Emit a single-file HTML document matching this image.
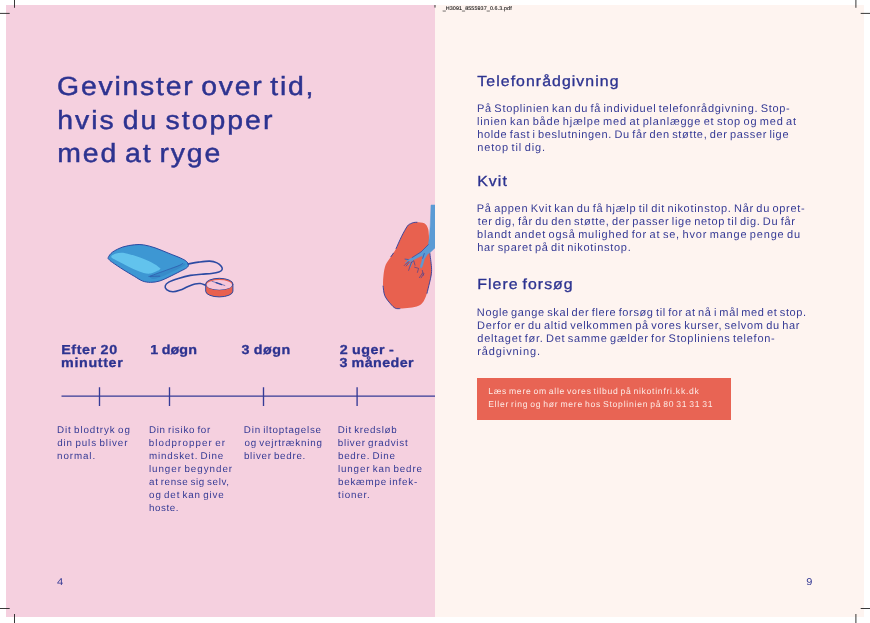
<!DOCTYPE html>
<html lang="da">
<head>
<meta charset="utf-8">
<title>Gevinster over tid</title>
<style>
html,body{margin:0;padding:0;background:#fff;}
body{width:870px;height:623px;position:relative;overflow:hidden;font-family:"Liberation Sans",sans-serif;}
.pg{position:absolute;top:5px;height:611.6px;}
#lp{left:6.3px;width:428.7px;background:#f5d0df;}
#rp{left:435px;width:428.8px;background:#fef4f0;}
.t{position:absolute;transform-origin:0 0;text-rendering:geometricPrecision;white-space:nowrap;line-height:1;font-family:"Liberation Sans",sans-serif;}
#box{position:absolute;left:476.8px;top:377.8px;width:253.9px;height:41.9px;background:#e86454;}
svg{position:absolute;left:0;top:0;}
#tx{position:absolute;left:0;top:0;width:870px;height:623px;will-change:transform;}
</style>
</head>
<body>
<div class="pg" id="lp"></div>
<div class="pg" id="rp"></div>
<div id="box"></div>
<svg width="870" height="623" viewBox="0 0 870 623">
  <!-- crop marks -->
  <g stroke="#222" stroke-width="0.9" fill="none">
    <path d="M14.5 0V7.8M0 13.4H9.7M855.9 0V7.8M860.7 13.4H870M0 608.5H9.7M14.5 614V623M855.9 614V623M860.7 608.5H870"/>
    <path d="M435 5V7.6"/>
  </g>
  <!-- timeline -->
  <g stroke="#363b97" stroke-width="1.35" fill="none">
    <path d="M61.5 396.1H435M99.5 387.2V406M169.5 387.2V406M263.5 387.2V406M357.1 387.2V406"/>
  </g>
  <clipPath id="lpc"><rect x="6.3" y="5" width="428.7" height="611.6"/></clipPath>
  <g clip-path="url(#lpc)">
  <path d="M108.28 257.41C108.85 256.13 110.19 253.75 112.64 252.01C115.10 250.27 119.35 248.16 122.99 246.95C126.63 245.75 131.03 245.11 134.48 244.77C137.93 244.43 140.23 244.37 143.68 244.89C147.13 245.40 150.96 246.46 155.17 247.87C159.39 249.29 164.75 251.70 168.97 253.39C173.18 255.08 177.59 256.69 180.46 257.99C183.33 259.29 184.87 260.10 186.21 261.21C187.55 262.32 188.41 263.56 188.51 264.66C188.60 265.75 188.12 266.67 186.78 267.76C185.44 268.85 183.43 269.67 180.46 271.21C177.49 272.74 172.41 275.33 168.97 276.95C165.52 278.58 162.84 280.08 159.77 280.98C156.70 281.88 153.45 282.36 150.57 282.36C147.70 282.36 145.21 281.97 142.53 280.98C139.85 279.98 137.74 278.30 134.48 276.38C131.23 274.46 126.63 271.78 122.99 269.48C119.35 267.18 114.94 264.21 112.64 262.59C110.34 260.96 109.92 260.57 109.20 259.71C108.47 258.85 107.70 258.70 108.28 257.41Z" fill="#3d97d3" stroke="#2c4aa2" stroke-width="1.0" stroke-linejoin="round"/>
  <path d="M111.26 256.38C111.55 255.38 113.75 253.93 116.09 253.39C118.43 252.85 121.65 252.59 125.29 253.16C128.93 253.74 133.52 255.27 137.93 256.84C142.34 258.41 148.12 260.77 151.72 262.59C155.33 264.41 158.16 266.65 159.54 267.76C160.92 268.87 160.34 268.74 160.00 269.25C159.66 269.77 159.04 270.15 157.47 270.86C155.90 271.57 152.87 273.16 150.57 273.51C148.28 273.85 146.36 273.60 143.68 272.93C141.00 272.26 137.93 271.02 134.48 269.48C131.03 267.95 126.34 265.42 122.99 263.74C119.64 262.05 116.32 260.59 114.37 259.37C112.41 258.14 110.98 257.38 111.26 256.38Z" fill="#62c3ed"/>
  <path d="M150.57 276.15C152.78 274.71 161.30 272.36 166.67 270.29C172.03 268.22 179.73 264.60 182.76 263.74C185.79 262.87 185.40 264.35 184.83 265.11C184.25 265.88 181.95 266.95 179.31 268.33C176.67 269.71 172.22 271.90 168.97 273.39C165.71 274.89 162.36 276.38 159.77 277.30C157.18 278.22 154.98 279.10 153.45 278.91C151.92 278.72 148.37 277.59 150.57 276.15Z" fill="#378bc9"/>
  <path d="M150.57 275.92C153.26 274.94 161.88 271.80 166.67 270.06C171.46 268.31 176.63 266.59 179.31 265.46C181.99 264.33 182.18 263.64 182.76 263.28" fill="none" stroke="#2c4aa2" stroke-width="0.6" stroke-linecap="round"/>
  <path d="M148.85 276.38C150.67 276.34 157.95 276.19 159.77 276.15" fill="none" stroke="#2c4aa2" stroke-width="0.6" stroke-linecap="round"/>
  <path d="M188.05 263.98C189.81 263.67 195.02 262.61 198.62 262.14C202.22 261.66 206.59 261.00 209.66 261.13C212.72 261.25 215.05 261.97 217.01 262.87C218.97 263.78 220.58 265.40 221.43 266.55C222.27 267.70 222.50 268.85 222.07 269.77C221.64 270.69 220.61 271.46 218.85 272.07C217.09 272.68 214.41 273.10 211.49 273.45C208.58 273.80 204.90 273.86 201.38 274.18C197.85 274.51 194.18 274.66 190.34 275.38C186.51 276.10 181.99 277.37 178.39 278.51C174.79 279.64 170.93 280.96 168.74 282.18C166.54 283.41 165.59 284.64 165.24 285.86C164.89 287.09 165.35 288.54 166.62 289.54C167.89 290.54 170.61 291.75 172.87 291.84C175.14 291.93 177.78 290.93 180.23 290.09C182.68 289.25 185.13 287.79 187.59 286.78C190.04 285.77 192.80 284.56 194.94 284.02C197.09 283.49 198.74 283.38 200.46 283.56C202.18 283.75 204.44 284.87 205.24 285.13" fill="none" stroke="#2c4aa2" stroke-width="1.55" stroke-linecap="round"/>
  <path d="M205.70 284.02V291.20A13.61 5.70 0 0 0 232.92 291.20V284.02Z" fill="#e8614f" stroke="#2c4aa2" stroke-width="1.0"/>
  <ellipse cx="219.31" cy="284.02" rx="13.61" ry="5.70" fill="#e8614f" stroke="#2c4aa2" stroke-width="1.0"/>
  <ellipse cx="219.31" cy="284.92" rx="12.71" ry="4.80" fill="#f6c6d8"/>
  <path d="M211.95 281.26L224.83 285.49" stroke="#2c4aa2" stroke-width="0.6" stroke-linecap="round"/>
  <path d="M216.09 282.64L221.61 284.57" stroke="#2c4aa2" stroke-width="1.3" stroke-linecap="round"/>
  <path d="M413.80 222.50C414.87 222.27 415.25 222.17 417.00 222.30C418.75 222.43 422.48 222.32 424.30 223.30C426.12 224.28 427.13 226.18 427.90 228.20C428.67 230.22 428.67 232.60 428.90 235.40C429.13 238.20 429.17 241.98 429.30 245.00C429.43 248.02 429.33 249.80 429.70 253.50C430.07 257.20 431.25 263.62 431.50 267.20C431.75 270.78 431.53 272.38 431.20 275.00C430.87 277.62 430.25 279.72 429.50 282.90C428.75 286.08 427.70 291.02 426.70 294.10C425.70 297.18 424.85 299.45 423.50 301.40C422.15 303.35 420.88 304.73 418.60 305.80C416.32 306.87 412.88 307.33 409.80 307.80C406.72 308.27 402.52 308.53 400.10 308.60C397.68 308.67 396.90 309.00 395.30 308.20C393.70 307.40 392.25 305.88 390.50 303.80C388.75 301.72 386.03 298.65 384.80 295.70C383.57 292.75 383.32 289.52 383.10 286.10C382.88 282.68 383.07 278.75 383.50 275.20C383.93 271.65 384.47 267.88 385.70 264.80C386.93 261.72 389.17 259.42 390.90 256.70C392.63 253.98 394.30 251.92 396.10 248.50C397.90 245.08 399.82 239.93 401.70 236.20C403.58 232.47 405.92 228.18 407.40 226.10C408.88 224.02 409.53 224.30 410.60 223.70C411.67 223.10 412.73 222.73 413.80 222.50Z" fill="#e8614f"/>
  <path d="M417.00 222.30C416.47 222.33 414.87 222.27 413.80 222.50C412.73 222.73 411.67 223.10 410.60 223.70C409.53 224.30 408.88 224.02 407.40 226.10C405.92 228.18 403.58 232.47 401.70 236.20C399.82 239.93 397.03 246.45 396.10 248.50" fill="none" stroke="#2b3d9c" stroke-width="0.9" stroke-linecap="round"/>
  <path d="M393.40 253.20C392.98 253.78 391.32 256.12 390.90 256.70" fill="none" stroke="#2b3d9c" stroke-width="0.9" stroke-linecap="round"/>
  <path d="M383.10 286.10C383.38 287.70 383.57 292.75 384.80 295.70C386.03 298.65 388.75 301.72 390.50 303.80C392.25 305.88 393.73 307.40 395.30 308.20C396.87 309.00 399.13 308.53 399.90 308.60" fill="none" stroke="#2b3d9c" stroke-width="0.9" stroke-linecap="round"/>
  <path d="M429.80 252.80C430.08 255.20 431.27 263.50 431.50 267.20C431.73 270.90 431.53 272.38 431.20 275.00C430.87 277.62 430.20 279.85 429.50 282.90C428.80 285.95 427.42 291.57 427.00 293.30" fill="none" stroke="#2b3d9c" stroke-width="0.9" stroke-linecap="round"/>
  <path d="M431.00 205.00L430.30 225.00L429.30 238.00L428.30 244.70L421.10 251.90L413.80 256.70L408.20 259.90L405.40 259.10L408.20 260.90L414.60 259.30L420.20 256.50L422.70 255.70L421.90 261.00L420.40 266.00L420.90 268.20L422.40 266.20L424.40 259.10L427.50 254.30L430.70 251.90L435.00 247.90L435.00 205.00Z" fill="#5b9bd5" stroke="#5b9bd5" stroke-width="0.5" stroke-linejoin="round"/>
  <path d="M410.50 259.60L405.60 262.60" fill="none" stroke="#5b9bd5" stroke-width="1.0" stroke-linecap="round"/>
  <path d="M411.80 259.80L408.00 265.00" fill="none" stroke="#5b9bd5" stroke-width="1.0" stroke-linecap="round"/>
  <path d="M413.20 259.50L410.00 267.50" fill="none" stroke="#5b9bd5" stroke-width="1.0" stroke-linecap="round"/>
  <path d="M405.00 259.10L408.20 259.50" fill="none" stroke="#2b3d9c" stroke-width="0.6" stroke-linecap="round" stroke-linejoin="round"/>
  <path d="M404.20 265.60L408.20 261.50" fill="none" stroke="#2b3d9c" stroke-width="0.6" stroke-linecap="round" stroke-linejoin="round"/>
  <path d="M406.20 266.00L409.00 262.40" fill="none" stroke="#2b3d9c" stroke-width="0.6" stroke-linecap="round" stroke-linejoin="round"/>
  <path d="M408.60 270.40L411.40 262.40" fill="none" stroke="#2b3d9c" stroke-width="0.6" stroke-linecap="round" stroke-linejoin="round"/>
  <path d="M411.40 262.40L413.80 260.70L415.00 265.20" fill="none" stroke="#2b3d9c" stroke-width="0.6" stroke-linecap="round" stroke-linejoin="round"/>
  <path d="M414.60 267.20L418.60 268.40L417.40 272.40" fill="none" stroke="#2b3d9c" stroke-width="0.6" stroke-linecap="round" stroke-linejoin="round"/>
  <path d="M419.40 277.60L422.70 272.80" fill="none" stroke="#2b3d9c" stroke-width="0.6" stroke-linecap="round" stroke-linejoin="round"/>
  <path d="M421.10 277.80L423.90 273.60" fill="none" stroke="#2b3d9c" stroke-width="0.6" stroke-linecap="round" stroke-linejoin="round"/>
  <path d="M422.30 270.40L423.50 275.20" fill="none" stroke="#2b3d9c" stroke-width="0.6" stroke-linecap="round" stroke-linejoin="round"/>
  <path d="M428.30 244.70L421.10 251.90L412.20 257.50" fill="none" stroke="#2b3d9c" stroke-width="0.6" stroke-linecap="round" stroke-linejoin="round"/>
  <path d="M424.30 253.50L422.70 258.30" fill="none" stroke="#2b3d9c" stroke-width="0.6" stroke-linecap="round" stroke-linejoin="round"/>
  </g>
</svg>
<div id="tx">
<span class="t" style="left:57px;text-indent:0.12px;top:72.54px;font-size:26.3px;font-weight:400;color:#2d3390;letter-spacing:1.625px;word-spacing:-2.63px;transform:scaleX(1.08);-webkit-text-stroke:0.45px #2d3390;">Gevinster over tid,</span>
<span class="t" style="left:57px;text-indent:0.14px;top:107.34px;font-size:26.3px;font-weight:400;color:#2d3390;letter-spacing:1.872px;word-spacing:-2.63px;transform:scaleX(1.08);-webkit-text-stroke:0.45px #2d3390;">hvis du stopper</span>
<span class="t" style="left:57px;text-indent:0.21px;top:139.54px;font-size:26.3px;font-weight:400;color:#2d3390;letter-spacing:1.736px;word-spacing:-2.63px;transform:scaleX(1.08);-webkit-text-stroke:0.45px #2d3390;">med at ryge</span>
<span class="t" style="left:61px;text-indent:0.17px;top:342.94px;font-size:13.0px;font-weight:700;color:#2d3390;letter-spacing:0.543px;word-spacing:-0.65px;transform:scaleX(1.1);-webkit-text-stroke:0.3px #2d3390;">Efter 20</span>
<span class="t" style="left:61px;text-indent:0.09px;top:356.14px;font-size:13.0px;font-weight:700;color:#2d3390;letter-spacing:0.572px;word-spacing:-0.65px;transform:scaleX(1.1);-webkit-text-stroke:0.3px #2d3390;">minutter</span>
<span class="t" style="left:150px;text-indent:0.34px;top:342.94px;font-size:13.0px;font-weight:700;color:#2d3390;letter-spacing:0.064px;word-spacing:-0.65px;transform:scaleX(1.1);-webkit-text-stroke:0.3px #2d3390;">1 d&#248;gn</span>
<span class="t" style="left:241px;text-indent:0.38px;top:342.94px;font-size:13.0px;font-weight:700;color:#2d3390;letter-spacing:0.478px;word-spacing:-0.65px;transform:scaleX(1.1);-webkit-text-stroke:0.3px #2d3390;">3 d&#248;gn</span>
<span class="t" style="left:339px;text-indent:0.70px;top:342.94px;font-size:13.0px;font-weight:700;color:#2d3390;letter-spacing:0.489px;word-spacing:-0.65px;transform:scaleX(1.1);-webkit-text-stroke:0.3px #2d3390;">2 uger -</span>
<span class="t" style="left:339px;text-indent:0.46px;top:356.14px;font-size:13.0px;font-weight:700;color:#2d3390;letter-spacing:0.375px;word-spacing:-0.65px;transform:scaleX(1.1);-webkit-text-stroke:0.3px #2d3390;">3 m&#229;neder</span>
<span class="t" style="left:56.91px;top:426.21px;font-size:9.8px;font-weight:400;color:#353a95;letter-spacing:0.909px;word-spacing:-1.18px;">Dit blodtryk og</span>
<span class="t" style="left:57.17px;top:439.21px;font-size:9.8px;font-weight:400;color:#353a95;letter-spacing:0.909px;word-spacing:-1.18px;">din puls bliver</span>
<span class="t" style="left:57.05px;top:452.21px;font-size:9.8px;font-weight:400;color:#353a95;letter-spacing:0.907px;word-spacing:-1.18px;">normal.</span>
<span class="t" style="left:148.89px;top:426.21px;font-size:9.8px;font-weight:400;color:#353a95;letter-spacing:0.719px;word-spacing:-1.18px;">Din risiko for</span>
<span class="t" style="left:148.86px;top:439.21px;font-size:9.8px;font-weight:400;color:#353a95;letter-spacing:1.055px;word-spacing:-1.18px;">blodpropper er</span>
<span class="t" style="left:148.99px;top:452.21px;font-size:9.8px;font-weight:400;color:#353a95;letter-spacing:0.808px;word-spacing:-1.18px;">mindsket. Dine</span>
<span class="t" style="left:148.89px;top:465.21px;font-size:9.8px;font-weight:400;color:#353a95;letter-spacing:0.970px;word-spacing:-1.18px;">lunger begynder</span>
<span class="t" style="left:149.09px;top:478.21px;font-size:9.8px;font-weight:400;color:#353a95;letter-spacing:0.630px;word-spacing:-1.18px;">at rense sig selv,</span>
<span class="t" style="left:149.12px;top:491.21px;font-size:9.8px;font-weight:400;color:#353a95;letter-spacing:0.837px;word-spacing:-1.18px;">og det kan give</span>
<span class="t" style="left:149.01px;top:504.21px;font-size:9.8px;font-weight:400;color:#353a95;letter-spacing:0.573px;word-spacing:-1.18px;">hoste.</span>
<span class="t" style="left:243.87px;top:426.10px;font-size:9.8px;font-weight:400;color:#353a95;letter-spacing:0.759px;word-spacing:-1.18px;">Din iltoptagelse</span>
<span class="t" style="left:244.39px;top:439.10px;font-size:9.8px;font-weight:400;color:#353a95;letter-spacing:0.804px;word-spacing:-1.18px;">og vejrtr&#230;kning</span>
<span class="t" style="left:243.95px;top:452.10px;font-size:9.8px;font-weight:400;color:#353a95;letter-spacing:0.722px;word-spacing:-1.18px;">bliver bedre.</span>
<span class="t" style="left:337.72px;top:426.21px;font-size:9.8px;font-weight:400;color:#353a95;letter-spacing:0.723px;word-spacing:-1.18px;">Dit kredsl&#248;b</span>
<span class="t" style="left:337.79px;top:439.21px;font-size:9.8px;font-weight:400;color:#353a95;letter-spacing:0.756px;word-spacing:-1.18px;">bliver gradvist</span>
<span class="t" style="left:337.95px;top:452.21px;font-size:9.8px;font-weight:400;color:#353a95;letter-spacing:0.749px;word-spacing:-1.18px;">bedre. Dine</span>
<span class="t" style="left:337.95px;top:465.21px;font-size:9.8px;font-weight:400;color:#353a95;letter-spacing:0.857px;word-spacing:-1.18px;">lunger kan bedre</span>
<span class="t" style="left:337.93px;top:478.21px;font-size:9.8px;font-weight:400;color:#353a95;letter-spacing:0.781px;word-spacing:-1.18px;">bek&#230;mpe infek-</span>
<span class="t" style="left:338.11px;top:491.21px;font-size:9.8px;font-weight:400;color:#353a95;letter-spacing:0.821px;word-spacing:-1.18px;">tioner.</span>
<span class="t" style="left:56px;text-indent:0.79px;top:578.43px;font-size:10.0px;font-weight:400;color:#353a95;letter-spacing:-0.732px;transform:scaleX(1.12);">4</span>
<span class="t" style="left:806px;text-indent:0.23px;top:577.54px;font-size:10.0px;font-weight:400;color:#353a95;letter-spacing:-1.091px;transform:scaleX(1.1);">9</span>
<span class="t" style="left:477px;text-indent:0.33px;top:74.54px;font-size:14.7px;font-weight:400;color:#2d3390;letter-spacing:0.971px;word-spacing:-1.47px;transform:scaleX(1.08);-webkit-text-stroke:0.32px #2d3390;">Telefonr&#229;dgivning</span>
<span class="t" style="left:477px;text-indent:0.18px;top:174.54px;font-size:14.7px;font-weight:400;color:#2d3390;letter-spacing:0.984px;word-spacing:-1.47px;transform:scaleX(1.08);-webkit-text-stroke:0.32px #2d3390;">Kvit</span>
<span class="t" style="left:477px;text-indent:0.18px;top:278.14px;font-size:14.7px;font-weight:400;color:#2d3390;letter-spacing:0.975px;word-spacing:-1.47px;transform:scaleX(1.08);-webkit-text-stroke:0.32px #2d3390;">Flere fors&#248;g</span>
<span class="t" style="left:477.07px;top:104.01px;font-size:11.0px;font-weight:400;color:#353a95;letter-spacing:0.701px;word-spacing:-1.32px;">P&#229; Stoplinien kan du f&#229; individuel telefonr&#229;dgivning. Stop-</span>
<span class="t" style="left:477.07px;top:117.01px;font-size:11.0px;font-weight:400;color:#353a95;letter-spacing:0.791px;word-spacing:-1.32px;">linien kan b&#229;de hj&#230;lpe med at planl&#230;gge et stop og med at</span>
<span class="t" style="left:477.18px;top:130.01px;font-size:11.0px;font-weight:400;color:#353a95;letter-spacing:0.660px;word-spacing:-1.32px;">holde fast i beslutningen. Du f&#229;r den st&#248;tte, der passer lige</span>
<span class="t" style="left:477.20px;top:143.01px;font-size:11.0px;font-weight:400;color:#353a95;letter-spacing:0.860px;word-spacing:-1.32px;">netop til dig.</span>
<span class="t" style="left:476.82px;top:204.01px;font-size:11.0px;font-weight:400;color:#353a95;letter-spacing:0.710px;word-spacing:-1.32px;">P&#229; appen Kvit kan du f&#229; hj&#230;lp til dit nikotinstop. N&#229;r du opret-</span>
<span class="t" style="left:477.69px;top:217.01px;font-size:11.0px;font-weight:400;color:#353a95;letter-spacing:0.687px;word-spacing:-1.32px;">ter dig, f&#229;r du den st&#248;tte, der passer lige netop til dig. Du f&#229;r</span>
<span class="t" style="left:477.10px;top:230.01px;font-size:11.0px;font-weight:400;color:#353a95;letter-spacing:0.805px;word-spacing:-1.32px;">blandt andet ogs&#229; mulighed for at se, hvor mange penge du</span>
<span class="t" style="left:477.20px;top:243.01px;font-size:11.0px;font-weight:400;color:#353a95;letter-spacing:0.710px;word-spacing:-1.32px;">har sparet p&#229; dit nikotinstop.</span>
<span class="t" style="left:476.82px;top:308.01px;font-size:11.0px;font-weight:400;color:#353a95;letter-spacing:0.629px;word-spacing:-1.32px;">Nogle gange skal der flere fors&#248;g til for at n&#229; i m&#229;l med et stop.</span>
<span class="t" style="left:477.05px;top:321.01px;font-size:11.0px;font-weight:400;color:#353a95;letter-spacing:0.707px;word-spacing:-1.32px;">Derfor er du altid velkommen p&#229; vores kurser, selvom du har</span>
<span class="t" style="left:477.33px;top:334.01px;font-size:11.0px;font-weight:400;color:#353a95;letter-spacing:0.731px;word-spacing:-1.32px;">deltaget f&#248;r. Det samme g&#230;lder for Stopliniens telefon-</span>
<span class="t" style="left:477.18px;top:347.01px;font-size:11.0px;font-weight:400;color:#353a95;letter-spacing:0.906px;word-spacing:-1.32px;">r&#229;dgivning.</span>
<span class="t" style="left:488.15px;top:387.26px;font-size:8.6px;font-weight:400;color:#fdeae5;letter-spacing:0.734px;word-spacing:-1.20px;">L&#230;s mere om alle vores tilbud p&#229; nikotinfri.kk.dk</span>
<span class="t" style="left:488.13px;top:400.26px;font-size:8.6px;font-weight:400;color:#fdeae5;letter-spacing:0.752px;word-spacing:-1.20px;">Eller ring og h&#248;r mere hos Stoplinien p&#229; 80 31 31 31</span>
<span class="t" style="left:442.64px;top:6.70px;font-size:5.4px;font-weight:400;color:#111111;letter-spacing:0.094px;-webkit-text-stroke:0.1px #111;">_H3091_8555937_0.6.3.pdf</span>
</div>
</body>
</html>
